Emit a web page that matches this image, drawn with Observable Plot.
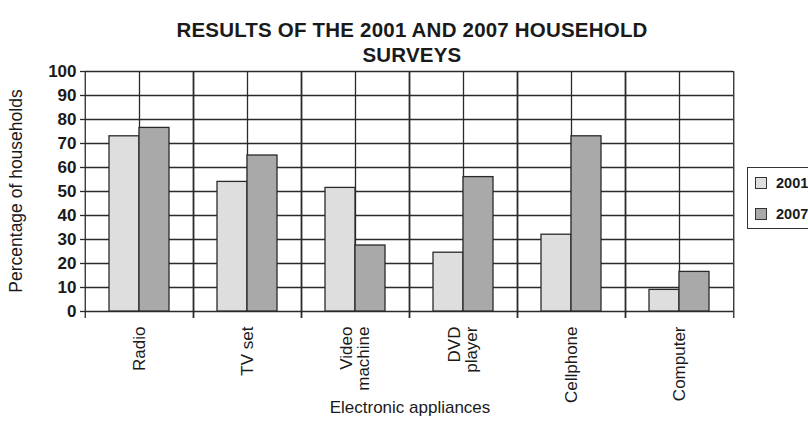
<!DOCTYPE html>
<html>
<head>
<meta charset="utf-8">
<script src="https://cdn.jsdelivr.net/npm/d3@7"></script>
<script src="https://cdn.jsdelivr.net/npm/@observablehq/plot@0.6"></script>
<style>
  body { margin: 0; background: #fff; }
  #wrap { position: relative; width: 808px; height: 439px; overflow: hidden;
          font-family: "Liberation Sans", Arial, sans-serif; color: #1a1a1a; background: #fff; }
  #chart { position: absolute; left: 0; top: 0; }
  #title { position: absolute; left: 0; top: 17px; width: 824px; text-align: center;
           font-weight: bold; font-size: 20.5px; line-height: 25px; letter-spacing: 0.2px; }
  #ylabel { position: absolute; left: 16px; top: 191px; transform: translate(-50%, -50%) rotate(-90deg);
            white-space: nowrap; font-size: 17.5px; }
  #xlabel { position: absolute; left: 410px; top: 408px; transform: translate(-50%, -50%);
            white-space: nowrap; font-size: 17px; }
  #legend { position: absolute; left: 747px; top: 167px; width: 120px; height: 62px;
            border: 1px solid #333; box-sizing: border-box; }
  .item { position: absolute; left: 7px; display: flex; align-items: center; font-size: 14.5px; font-weight: bold; }
  .sw { width: 12px; height: 12px; border: 1px solid #333; margin-right: 9px; box-sizing: border-box; }
</style>
</head>
<body>
<div id="wrap">
  <div id="chart"></div>
  <div id="title"></div>
  <div id="ylabel"></div>
  <div id="xlabel"></div>
  <div id="legend"></div>
</div>
<script>
const titleLines = ["RESULTS OF THE 2001 AND 2007 HOUSEHOLD", "SURVEYS"];
const yAxisTitle = "Percentage of households";
const xAxisTitle = "Electronic appliances";
const categories = ["Radio", "TV set", "Video machine", "DVD player", "Cellphone", "Computer"];
const categoryLabels = ["Radio", "TV set", "Video\nmachine", "DVD\nplayer", "Cellphone", "Computer"];
const years = ["2001", "2007"];
const values2001 = [73, 54, 51.5, 24.5, 32, 9];
const values2007 = [76.5, 65, 27.5, 56, 73, 16.5];
const yTicks = [0, 10, 20, 30, 40, 50, 60, 70, 80, 90, 100];
const colors = ["#dedede", "#a9a9a9"];

const table = categories.flatMap((c, i) => [
  {category: c, year: years[0], value: values2001[i]},
  {category: c, year: years[1], value: values2007[i]}
]);

const W = 808, H = 439, ML = 83, MR = 74, MT = 71, MB = 128;
const step = (W - ML - MR) / categories.length;
const lineColor = "#2a2a2a";

const chart = Plot.plot({
  width: W, height: H,
  marginLeft: ML, marginRight: MR, marginTop: MT, marginBottom: MB,
  style: {fontFamily: '"Liberation Sans", Arial, sans-serif', color: "#1a1a1a", background: "transparent", overflow: "visible"},
  fx: {domain: categories, padding: 0},
  x: {domain: years, paddingInner: 0, paddingOuter: 0.78},
  y: {domain: [0, 100]},
  color: {domain: years, range: colors},
  marks: [
    Plot.ruleY(yTicks, {stroke: lineColor, strokeWidth: 1.3}),
    Plot.ruleX([0], {x: null, stroke: lineColor, strokeWidth: 1.3}),
    Plot.ruleX([0], {x: null, dx: -step / 2, insetBottom: -7, stroke: lineColor, strokeWidth: 1.3}),
    Plot.ruleX([0], {x: null, dx: step / 2, insetBottom: -7, stroke: lineColor, strokeWidth: 1.3}),
    Plot.barY(table, {fx: "category", x: "year", y: "value", fill: "year", stroke: lineColor, strokeWidth: 1.3}),
    Plot.axisY({ticks: yTicks, tickSize: 5, tickPadding: 4, fontSize: 17, fontWeight: "bold", label: null, stroke: lineColor, strokeWidth: 1.3}),
    Plot.axisX({ticks: [], label: null}),
    Plot.axisFx({anchor: "bottom", tickSize: 0, tickPadding: 15, tickRotate: -90, fontSize: 17, label: null,
                 tickFormat: (d) => categoryLabels[categories.indexOf(d)]})
  ]
});
document.getElementById("chart").appendChild(chart);

document.getElementById("title").innerHTML = titleLines.join("<br>");
document.getElementById("ylabel").textContent = yAxisTitle;
document.getElementById("xlabel").textContent = xAxisTitle;
const legend = document.getElementById("legend");
years.forEach((y, i) => {
  const item = document.createElement("div");
  item.className = "item";
  item.style.top = (i === 0 ? 7 : 38) + "px";
  const sw = document.createElement("div");
  sw.className = "sw";
  sw.style.background = colors[i];
  const t = document.createElement("span");
  t.textContent = y;
  item.appendChild(sw); item.appendChild(t);
  legend.appendChild(item);
});
</script>
</body>
</html>
